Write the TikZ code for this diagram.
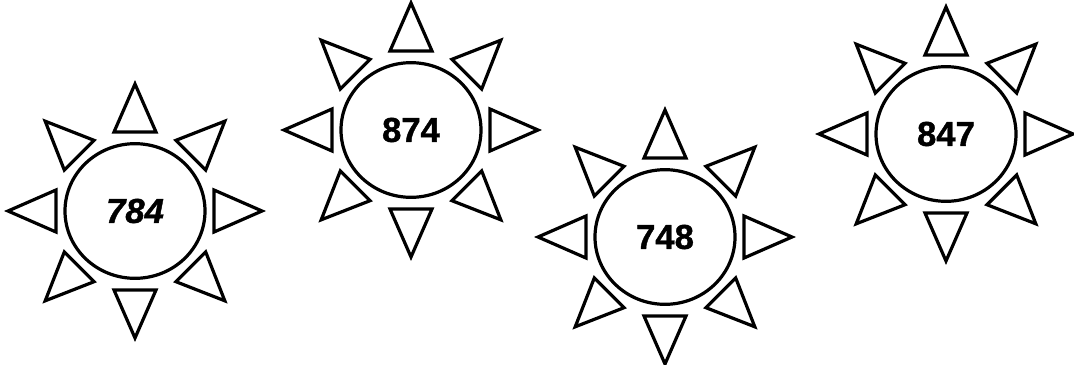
\documentclass[tikz,border=0pt]{standalone}
\usepackage{fontspec}
\setmainfont{Liberation Sans}
\newfontfamily\numfont[FakeBold=1.2]{Liberation Sans Bold}
\newfontfamily\numfontit[FakeBold=1.2]{Liberation Sans Bold Italic}
\usetikzlibrary{shapes.geometric}
\begin{document}
\begin{tikzpicture}[x=0.75pt,y=-0.75pt,line width=2.4pt,
  ray/.style={draw,line join=miter},
  core/.style={ellipse,draw,minimum width=105pt,minimum height=101pt,inner sep=0pt,
    font=\numfont\fontsize{26}{26}\selectfont}]
\useasboundingbox (0,0) rectangle (1074,364);
\node[core] (s1) at (135,211) {\numfontit 784};
\node[core] (s2) at (411,130) {874};
\node[core] (s3) at (665,237) {748};
\node[core] (s4) at (946,134) {847};
\foreach \s in {s1,s2,s3,s4}{
  \foreach \a in {0,45,...,315}{
    \begin{scope}[shift={(\s)},rotate=\a]
      \draw[ray] (79,-21) -- (127,0) -- (79,21) -- cycle;
    \end{scope}
  }
}
\end{tikzpicture}
\end{document}
